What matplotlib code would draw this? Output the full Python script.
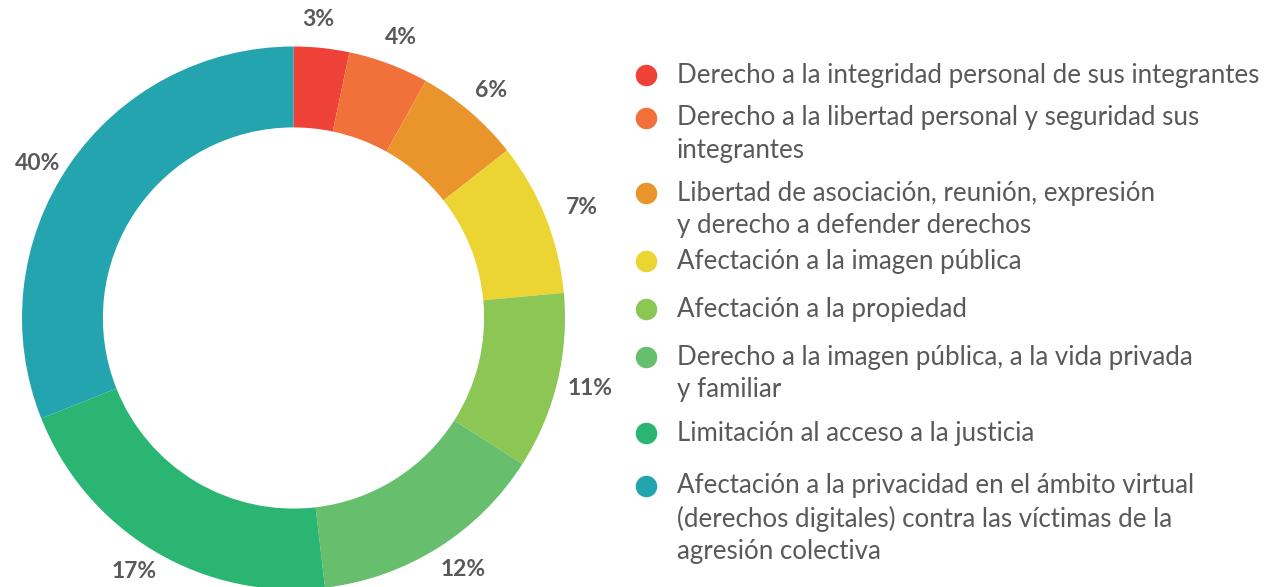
import matplotlib
matplotlib.use("Agg")
import matplotlib.pyplot as plt
import numpy as np

# ---- data ----
categories = [
    "Derecho a la integridad personal de sus integrantes",
    "Derecho a la libertad personal y seguridad sus\nintegrantes",
    "Libertad de asociación, reunión, expresión\ny derecho a defender derechos",
    "Afectación a la imagen pública",
    "Afectación a la propiedad",
    "Derecho a la imagen pública, a la vida privada\ny familiar",
    "Limitación al acceso a la justicia",
    "Afectación a la privacidad en el ámbito virtual\n(derechos digitales) contra las víctimas de la\nagresión colectiva",
]
# wedge sizes as drawn in the picture
wedge_sizes = [3.3, 4.8, 6.3, 9.1, 10.5, 14.1, 20.8, 31.0]
# percentage labels printed on the picture
pct_labels = ["3%", "4%", "6%", "7%", "11%", "12%", "17%", "40%"]

colors = ["#EE4137", "#F1713B", "#E9952C", "#ECD433", "#8CC654",
          "#67BF6D", "#2BB573", "#24A4AE"]
text_color = "#58595B"

plt.rcParams['font.family'] = ['Lato', 'DejaVu Sans']

W, H = 1264, 587
fig = plt.figure(figsize=(W / 100, H / 100), dpi=100)
ax = fig.add_axes([0, 0, 1, 1])

cx, cy, R = 293.5, H - 318, 271.5
wedges, _ = ax.pie(wedge_sizes, colors=colors, startangle=90, counterclock=False,
                   center=(cx, cy), radius=R, frame=True,
                   wedgeprops=dict(width=R * 0.298, linewidth=0))
ax.set_xlim(0, W)
ax.set_ylim(0, H)
ax.set_aspect('equal')
ax.axis('off')

label_shift = [(-6, 0), (2, 0), (3, 0), (10, 0), (5, 0), (10, 3), (-6, 4), (-8, -14)]
for w, lab, (sx, sy) in zip(wedges, pct_labels, label_shift):
    ang = np.deg2rad((w.theta1 + w.theta2) / 2)
    r = R * 1.105
    ax.text(cx + r * np.cos(ang) + sx, cy + r * np.sin(ang) + sy, lab,
            ha='center', va='center', fontsize=16.5, fontweight='bold',
            color=text_color)

# ---- legend ----
legend_y = [75, 118, 193, 261, 309, 357, 433, 486]   # first-line centers (px from top)
line_h = 32.5
for y, cat, col in zip(legend_y, categories, colors):
    ax.scatter([646], [H - y], s=240, color=col, linewidths=0)
    for i, line in enumerate(cat.split("\n")):
        ax.text(677, H - (y + i * line_h), line, ha='left', va='center',
                fontsize=18.6, color=text_color)

fig.savefig("out.png", dpi=100)
